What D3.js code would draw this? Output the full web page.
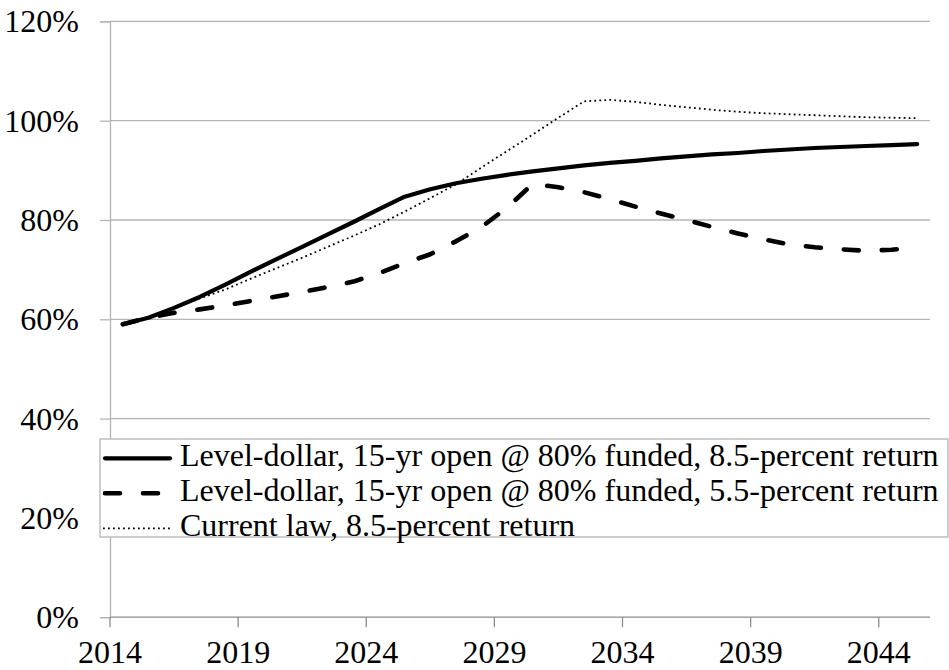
<!DOCTYPE html>
<html>
<head>
<meta charset="utf-8">
<script src="https://cdn.jsdelivr.net/npm/d3@7/dist/d3.min.js"></script>
<style>
  html, body { margin: 0; padding: 0; background: #fff; }
  svg { display: block; }
</style>
</head>
<body>
<svg id="chart" width="949" height="670"></svg>
<script>
// Funded ratio projections, 2014–2045
const years = d3.range(2014, 2046);

const levelDollar85 = [
  59.0, 60.3, 62.3, 64.5, 67.0, 69.6, 72.1, 74.6, 77.1, 79.6,
  82.2, 84.7, 86.2, 87.4, 88.3, 89.1, 89.8, 90.4, 91.0, 91.5,
  91.9, 92.4, 92.8, 93.2, 93.5, 93.9, 94.2, 94.5, 94.7, 94.9,
  95.1, 95.3
];

const levelDollar55 = [
  59.0, 60.3, 61.3, 62.0, 62.8, 63.7, 64.6, 65.5, 66.5, 67.6,
  69.3, 71.3, 73.1, 75.7, 78.6, 82.5, 87.3, 86.6, 85.6, 84.2,
  82.7, 81.3, 80.0, 78.6, 77.3, 76.1, 75.1, 74.5, 74.1, 73.8,
  74.0, 74.6
];

const currentLaw = [
  59.0, 60.3, 62.2, 64.2, 66.0, 68.2, 70.3, 72.4, 74.6, 76.8,
  79.1, 81.7, 84.4, 87.2, 90.6, 93.9, 97.2, 100.6, 103.9, 104.2,
  103.8, 103.2, 102.7, 102.2, 101.8, 101.5, 101.3, 101.1, 100.9, 100.7,
  100.6, 100.5
];

const yTicks = [0, 20, 40, 60, 80, 100, 120];
const xTickYears = [2014, 2019, 2024, 2029, 2034, 2039, 2044];

const seriesNames = [
  "Level-dollar, 15-yr open @ 80% funded, 8.5-percent return",
  "Level-dollar, 15-yr open @ 80% funded, 5.5-percent return",
  "Current law, 8.5-percent return"
];

const series = [
  { name: seriesNames[0], values: levelDollar85, width: 4.2, dash: null, cap: "round" },
  { name: seriesNames[1], values: levelDollar55, width: 4.6, dash: "15,23", cap: "round" },
  { name: seriesNames[2], values: currentLaw, width: 1.8, dash: "1.8,3.2", cap: "butt" }
];

const FONT = '"Liberation Serif", "Times New Roman", serif';
const FS = "32px";

const svg = d3.select("#chart");
const plotLeft = 110, plotRight = 930, plotTop = 21.4, plotBottom = 617.2;

const x = d3.scaleBand().domain(years).range([plotLeft, plotRight]).padding(0);
const y = d3.scaleLinear().domain([0, 120]).range([plotBottom, plotTop]);
const cx = yr => x(yr) + x.bandwidth() / 2;

// horizontal gridlines
svg.append("g")
  .selectAll("line")
  .data(yTicks.filter(t => t > 0))
  .join("line")
  .attr("x1", plotLeft).attr("x2", plotRight)
  .attr("y1", d => y(d)).attr("y2", d => y(d))
  .attr("stroke", "#b4b4b4").attr("stroke-width", 1.3);

// y axis
const yAxis = d3.axisLeft(y).tickValues(yTicks).tickFormat(d => d + "%").tickSize(10).tickPadding(21);
const gy = svg.append("g").attr("transform", `translate(${plotLeft},0)`).call(yAxis);
gy.attr("font-family", null).attr("font-size", null);
gy.select(".domain").attr("stroke", "#b4b4b4").attr("stroke-width", 1.3);
gy.selectAll(".tick line").attr("stroke", "#b4b4b4").attr("stroke-width", 1.3);
gy.selectAll(".tick text")
  .style("font-family", FONT)
  .style("font-size", FS).attr("fill", "#000").attr("dy", "0.33em");

// x axis: ticks sit on category boundaries
const gx = svg.append("g").attr("transform", `translate(0,${plotBottom})`);
gx.append("line").attr("x1", plotLeft).attr("x2", plotRight).attr("y1", 0).attr("y2", 0)
  .attr("stroke", "#8c8c8c").attr("stroke-width", 1.3);
const xt = gx.selectAll("g.tick").data(xTickYears).join("g").attr("class", "tick")
  .attr("transform", d => `translate(${x(d)},0)`);
xt.append("line").attr("y1", 0).attr("y2", 10).attr("stroke", "#8c8c8c").attr("stroke-width", 1.3);
xt.append("text").attr("y", 45.8).attr("text-anchor", "middle")
  .style("font-family", FONT).style("font-size", FS).text(d => d);

// series lines
const line = d3.line().x((d, i) => cx(years[i])).y(d => y(d));
svg.append("g").selectAll("path")
  .data(series)
  .join("path")
  .attr("d", d => line(d.values))
  .attr("fill", "none")
  .attr("stroke", "#000")
  .attr("stroke-width", d => d.width)
  .attr("stroke-dasharray", d => d.dash)
  .attr("stroke-linecap", d => d.cap)
  .attr("stroke-linejoin", "round");

// legend
const lg = svg.append("g");
lg.append("rect").attr("x", 100).attr("y", 439).attr("width", 848).attr("height", 98)
  .attr("fill", "#fff").attr("stroke", "#b4b4b4").attr("stroke-width", 1.3);
const rows = lg.selectAll("g.row").data(series).join("g").attr("class", "row")
  .attr("transform", (d, i) => `translate(0,${458.3 + i * 35})`);
rows.append("line").attr("x1", d => d.cap === "round" ? 105 : 103).attr("x2", 170)
  .attr("y1", 0).attr("y2", 0)
  .attr("stroke", "#000")
  .attr("stroke-width", d => d.width)
  .attr("stroke-dasharray", d => d.dash)
  .attr("stroke-linecap", d => d.cap);
rows.append("text").attr("x", 180).attr("y", 7.8)
  .style("font-family", FONT).style("font-size", FS).text(d => d.name);
</script>
</body>
</html>
